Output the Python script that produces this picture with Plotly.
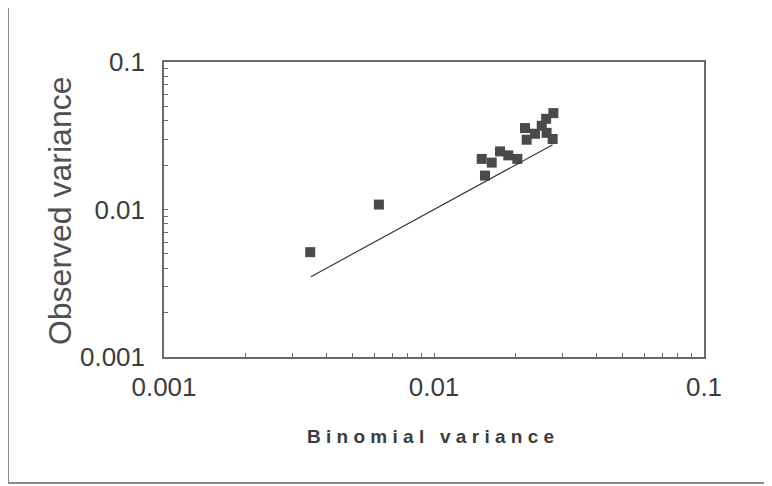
import plotly.graph_objects as go

# Data (log-log scatter)
binomial_var = [0.00348, 0.00625, 0.01502, 0.01545, 0.01636, 0.01756, 0.01884, 0.02035,
                0.02173, 0.02204, 0.02366, 0.02506, 0.02602, 0.02768, 0.02751, 0.02612]
observed_var = [0.00514, 0.0108, 0.02203, 0.01698, 0.02079, 0.02477, 0.02328, 0.02203,
                0.03565, 0.02972, 0.03263, 0.03698, 0.04121, 0.04502, 0.03006, 0.0331]
line_x = [0.0035, 0.0275]
line_y = [0.0035, 0.0275]
tick_vals = [0.001, 0.01, 0.1]
tick_text = ["0.001", "0.01", "0.1"]
minor_digits = [2, 3, 4, 5, 6, 7, 8, 9]
minor_vals = [d * t for t in tick_vals[:-1] for d in minor_digits]

AX = "#6a6a6a"
TXT = "#3c3c3c"
FONT = "Liberation Sans, Arial, sans-serif"

fig = go.Figure()
fig.add_trace(go.Scatter(x=binomial_var, y=observed_var, mode="markers",
                         marker=dict(symbol="square", size=10, color="#4a4a4a"),
                         showlegend=False, hoverinfo="skip"))
fig.add_trace(go.Scatter(x=line_x, y=line_y, mode="lines",
                         line=dict(color="#3a3a3a", width=1.2),
                         showlegend=False, hoverinfo="skip"))

axis_common = dict(
    type="log", tickvals=tick_vals, ticktext=tick_text,
    showgrid=False, zeroline=False, showline=True, linecolor=AX, linewidth=1.5,
    mirror=True, ticks="inside", ticklen=4, tickcolor=AX,
    tickfont=dict(family=FONT, size=26, color=TXT),
    minor=dict(tickvals=minor_vals, ticks="inside", ticklen=4, tickcolor=AX, showgrid=False),
)

fig.update_layout(
    width=772, height=486,
    margin=dict(l=156, r=76, t=54, b=137),
    paper_bgcolor="white", plot_bgcolor="white",
    xaxis=dict(range=[-3, -1], ticklabelstandoff=6, **axis_common),
    yaxis=dict(range=[-3, -1], ticklabelstandoff=12, **axis_common),
    annotations=[
        dict(text="Observed variance", xref="paper", yref="paper", x=-0.1926, y=0.498,
             textangle=-90, showarrow=False, xanchor="center", yanchor="middle",
             font=dict(family=FONT, size=32, color="#505050")),
        dict(text="B i n o m i a l   v a r i a n c e", xref="paper", yref="paper",
             x=0.494, y=-0.271, showarrow=False, xanchor="center", yanchor="middle",
             font=dict(family=FONT, size=19, color=TXT, weight="bold")),
    ],
    shapes=[
        dict(type="rect", xref="paper", yref="paper", x0=-0.2889, x1=1.16,
             y0=-0.4271, y1=1.1864, line=dict(color="#8a8a8a", width=2),
             fillcolor="rgba(0,0,0,0)", layer="below"),
    ],
)

fig.write_html("out.html")
